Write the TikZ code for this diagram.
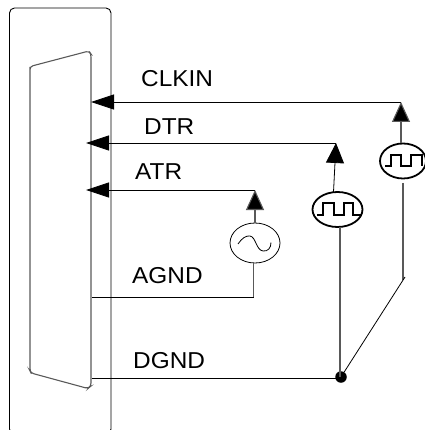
\documentclass[tikz,border=0pt]{standalone}
\usepackage{fontspec}
\setmainfont{Liberation Sans}
\usetikzlibrary{arrows.meta,shapes.geometric}
\tikzset{
  wire/.style={black,line width=0.8pt},
  greywire/.style={black!65,line width=1.1pt},
  headleft/.style={-{Triangle[length=23pt,width=15pt,fill=black]}},
  headup/.style={-{Triangle[length=20pt,width=18pt,fill=black]}},
  source/.style={ellipse,draw=black,inner sep=0pt,fill=white},
  wave/.style={black,line width=1.8pt},
  label/.style={anchor=base west,inner sep=0pt,font=\fontsize{23}{23}\selectfont},
  housing/.style={draw=black,line width=0.9pt,rounded corners=5pt},
  shell/.style={draw=black!65,line width=1.1pt},
  junction/.style={circle,fill=black,inner sep=0pt,minimum size=11.5pt}
}
\newcommand{\wide}[1]{\scalebox{1.06}[1]{#1}}
\begin{document}
\begin{tikzpicture}[x=1pt,y=-1pt]
\useasboundingbox (0,0) rectangle (424,430);
\path[housing] (9.5,8) rectangle (111,434);
\path[shell] (30,70) [rounded corners=3pt] -- (30,66.5) -- (89,51) -- (91,54) -- (91,386) -- (88,388.5) -- (31,373) -- (30,371) -- cycle;

% sources
\node[source,line width=0.8pt,minimum width=50pt,minimum height=40pt] (sine) at (255,243) {};
\node[source,line width=1.8pt,minimum width=50pt,minimum height=35pt] (pulseA) at (337.5,209.5) {};
\node[source,line width=1.8pt,minimum width=46pt,minimum height=35pt] (pulseB) at (403,161) {};
\draw[black,line width=0.8pt] (238,244) .. controls (242,238) and (246,235.5) .. (250,236)
  .. controls (256,237) and (256,250) .. (263,251) .. controls (268,251.5) and (271,248) .. (271,242.5);
\draw[wave] (317.3,215) -- (323,215) -- (323,203.3) -- (334.3,203.3) -- (334.3,215) -- (344.3,215) -- (344.3,203.3) -- (352.7,203.3) -- (352.7,215) -- (360.7,215);
\draw[wave] (385,166) -- (391,166) -- (391,155) -- (401,155) -- (401,166) -- (411,166) -- (411,155) -- (422,155) -- (422,166);

% corners and pins
\coordinate (clkinPin) at (91,102);
\coordinate (clkinCorner) at (401,102);
\coordinate (clkinStem) at (401,143);
\coordinate (dtrPin) at (86,143);
\coordinate (dtrCorner) at (336,143);
\coordinate (dtrStem) at (333.5,192);
\coordinate (atrPin) at (86,190);
\coordinate (atrCorner) at (255,190);
\coordinate (agndPin) at (92,297);
\coordinate (agndCorner) at (253.5,297);
\coordinate (sineOut) at (253.5,263);
\coordinate (dgndPin) at (92,378);
\coordinate (pulseAOut) at (340,227);
\coordinate (pulseBOut) at (403,183);
\coordinate (bend) at (403,280);
\coordinate (bendTip) at (405,277);
\node[junction] (dot) at (341,377) {};
\coordinate (dotLeft) at (341,378);
\coordinate (dotTop) at (340,377);

% connectors
\draw[wire,headleft] (clkinCorner) -- (clkinPin);
\draw[greywire,headup] (clkinStem) -- (clkinCorner);
\draw[wire,headleft] (dtrCorner) -- (dtrPin);
\draw[wire,headup] (dtrStem) -- (dtrCorner);
\draw[wire,headleft] (atrCorner) -- (atrPin);
\draw[greywire,headup] (sine.north) -- (atrCorner);
\draw[greywire] (sineOut) -- (agndCorner);
\draw[wire] (agndCorner) -- (agndPin);
\draw[wire] (dgndPin) -- (dotLeft);
\draw[greywire] (pulseAOut) -- (dotTop);
\draw[greywire] (pulseBOut) -- (bend);
\draw[wire] (bendTip) -- (dot);

% labels
\node[label] (clkin) at (141,87) {\wide{CLKIN}};
\node[label] (dtr) at (144,135) {\wide{DTR}};
\node[label] (atr) at (135,179) {\wide{ATR}};
\node[label] (agnd) at (132,283) {\wide{AGND}};
\node[label] (dgnd) at (133,368) {\wide{DGND}};
\end{tikzpicture}
\end{document}
